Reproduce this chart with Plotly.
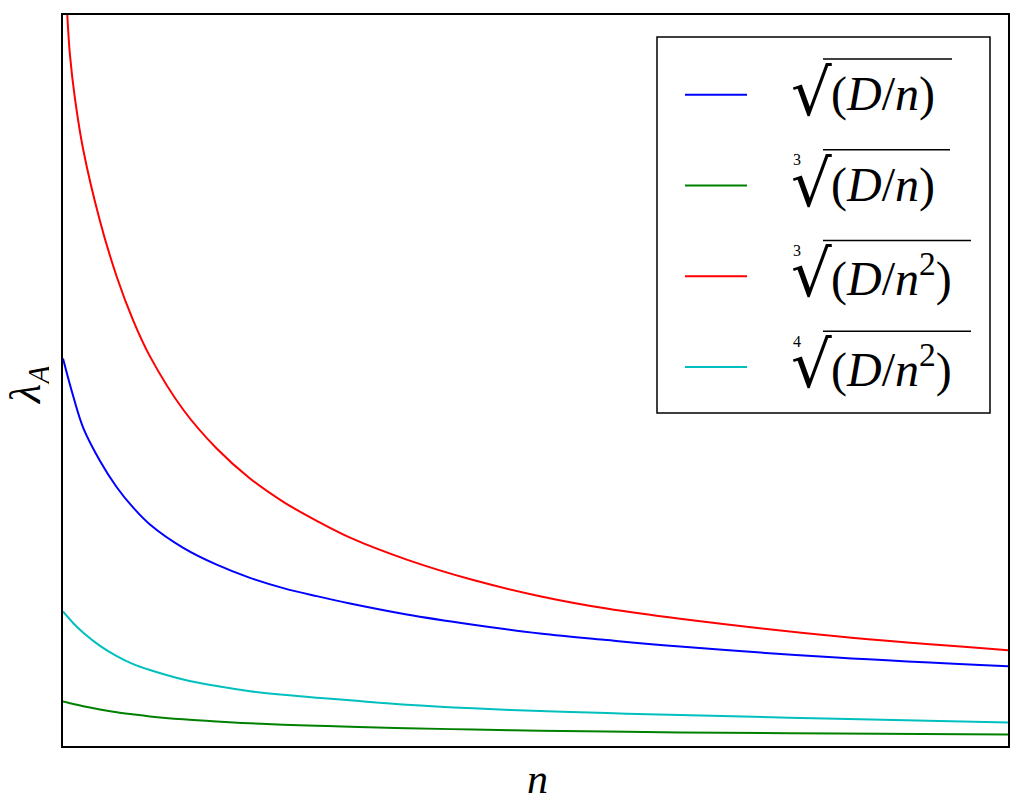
import plotly.graph_objects as go

# ---- data (n on a 1..100 scale, lambda on a 0..10 scale) ----
n_grid = [1.0, 2.08, 3.13, 4.88, 6.63, 8.36, 10.11, 13.60, 17.10, 20.59, 24.08,
          27.58, 31.07, 37.01, 43.98, 50.97, 57.96, 65.64, 82.05, 100.0]
lam_sqrt_n = [5.30, 4.78, 4.35, 3.90, 3.54, 3.26, 3.03, 2.71, 2.48, 2.30, 2.16,
              2.05, 1.95, 1.80, 1.66, 1.54, 1.45, 1.36, 1.21, 1.09]
lam_cbrt_n = [0.61, 0.575, 0.545, 0.50, 0.462, 0.432, 0.405, 0.365, 0.335, 0.31, 0.292,
              0.277, 0.264, 0.244, 0.225, 0.21, 0.197, 0.186, 0.17, 0.158]
lam_qrt_n2 = [1.84, 1.68, 1.55, 1.37, 1.23, 1.12, 1.04, 0.91, 0.82, 0.75, 0.70,
              0.66, 0.625, 0.565, 0.515, 0.478, 0.45, 0.425, 0.372, 0.323]
n_red = [1.0, 1.45, 1.73, 2.26, 3.13, 4.88, 6.63, 8.36, 10.11, 13.60, 17.10, 20.59,
         24.08, 27.58, 31.07, 37.01, 43.98, 50.97, 57.96, 65.64, 82.05, 100.0]
lam_cbrt_n2 = [11.4, 10.0, 9.45, 8.85, 8.15, 7.18, 6.42, 5.82, 5.33, 4.60, 4.07, 3.66,
               3.34, 3.08, 2.85, 2.55, 2.27, 2.05, 1.88, 1.74, 1.50, 1.31]

series_names = ["√(D/n)", "∛(D/n)", "∛(D/n²)", "∜(D/n²)"]
series_colors = ["#0000ff", "#008000", "#ff0000", "#00bfbf"]
root_index = ["", "3", "3", "4"]
inner_text = ["(<i>D</i>/<i>n</i>)", "(<i>D</i>/<i>n</i>)",
              "(<i>D</i>/<i>n</i><sup>2</sup>)", "(<i>D</i>/<i>n</i><sup>2</sup>)"]

# page body has an 8px margin; figure sized so plot area lands where the reference has it
OFF = 8
W, H = 1024 - 2 * OFF, 804 - 2 * OFF
L, R, T, B = 63, 1008, 13, 746          # plot area in page pixels


def px(x):
    return (x - L) / (R - L)


def py(y):
    return (B - y) / (B - T)


fig = go.Figure()
xs = [n_grid, n_grid, n_red, n_grid]
ys = [lam_sqrt_n, lam_cbrt_n, lam_cbrt_n2, lam_qrt_n2]
for x, y, name, c in zip(xs, ys, series_names, series_colors):
    fig.add_trace(go.Scatter(x=x, y=y, name=name, mode="lines",
                             line=dict(color=c, width=2, shape="spline", smoothing=1.0),
                             showlegend=False))

axis_common = dict(showticklabels=False, ticks="", showgrid=False, zeroline=False,
                   showline=True, mirror=True, linecolor="black", linewidth=2)
fig.update_xaxes(range=[1, 100], **axis_common)
fig.update_yaxes(range=[0, 10], **axis_common)

shapes = []
annotations = []

# legend box
shapes.append(dict(type="rect", xref="paper", yref="paper",
                   x0=px(657), x1=px(990), y0=py(412), y1=py(35),
                   line=dict(color="black", width=1.5), fillcolor="white", layer="above"))

row_y = [93, 184, 275, 366]
over_end = [952, 950, 971, 971]
for i in range(4):
    yc = row_y[i]
    shapes.append(dict(type="line", xref="paper", yref="paper",
                       x0=px(685), x1=px(747), y0=py(yc), y1=py(yc),
                       line=dict(color=series_colors[i], width=2)))
    # radical sign
    annotations.append(dict(xref="paper", yref="paper", x=px(789), y=py(yc - 2),
                            xanchor="left", yanchor="middle", showarrow=False,
                            text="√", font=dict(family="DejaVu Serif", size=64, color="black")))
    # overline (vinculum)
    shapes.append(dict(type="line", xref="paper", yref="paper",
                       x0=px(823), x1=px(over_end[i]), y0=py(yc - 36), y1=py(yc - 36),
                       line=dict(color="black", width=1.5)))
    if root_index[i]:
        annotations.append(dict(xref="paper", yref="paper", x=px(797), y=py(yc - 26),
                                xanchor="center", yanchor="middle", showarrow=False,
                                text=root_index[i],
                                font=dict(family="Liberation Serif", size=16, color="black")))
    annotations.append(dict(xref="paper", yref="paper", x=px(829), y=py(yc - 1),
                            xanchor="left", yanchor="middle", showarrow=False,
                            text=inner_text[i],
                            font=dict(family="Liberation Serif", size=48, color="black")))

# axis labels
annotations.append(dict(xref="paper", yref="paper", x=px(537), y=py(779),
                        xanchor="center", yanchor="middle", showarrow=False, height=34,
                        text="<i>n</i>", font=dict(family="Liberation Serif", size=42, color="black")))
annotations.append(dict(xref="paper", yref="paper", x=px(29), y=py(384),
                        xanchor="center", yanchor="middle", showarrow=False, textangle=-90,
                        height=40,
                        text="<i>λ</i><sub><i>A</i></sub>",
                        font=dict(family="Liberation Serif", size=44, color="black")))

fig.update_layout(width=W, height=H,
                  margin=dict(l=L - OFF, r=W - (R - OFF), t=T - OFF, b=H - (B - OFF), pad=0),
                  plot_bgcolor="white", paper_bgcolor="white",
                  shapes=shapes, annotations=annotations, showlegend=False)

fig.write_html("out.html")
